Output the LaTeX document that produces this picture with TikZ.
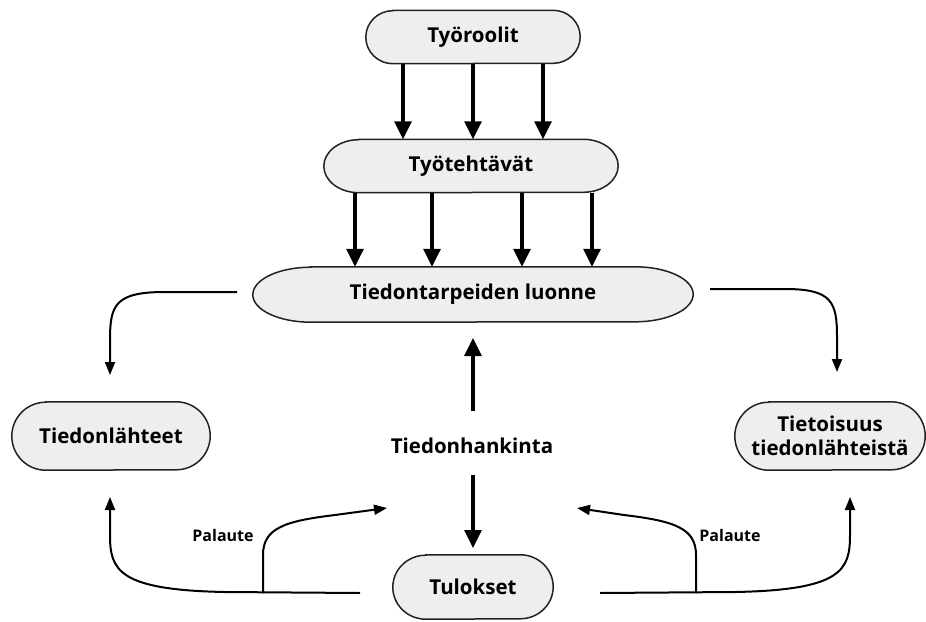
\documentclass[tikz,border=0pt]{standalone}
\usepackage{fontspec}
\setmainfont{Open Sans}
\usetikzlibrary{arrows.meta,backgrounds,calc}
\definecolor{boxgray}{HTML}{EEEEEE}
\definecolor{edge}{HTML}{222222}

% pill outline with elliptic ends: node name, x radius, y radius
\newcommand\pillshape[3]{%
  \draw[pill] ([xshift=#2]#1.north west) -- ([xshift=-#2]#1.north east)
    arc[start angle=90,end angle=-90,x radius=#2,y radius=#3]
    -- ([xshift=#2]#1.south west)
    arc[start angle=270,end angle=90,x radius=#2,y radius=#3] -- cycle;}

\begin{document}
\begin{tikzpicture}[x=1pt,y=-1pt,
  txt/.style={font=\fontsize{20.5}{24}\selectfont\bfseries, inner sep=0pt, align=center},
  box/.style={txt, minimum width=#1},
  note/.style={font=\fontsize{16}{19}\selectfont\bfseries, inner sep=0pt},
  pill/.style={draw=edge, line width=1.5pt, fill=boxgray},
  bigarrow/.style={line width=3.3pt, -{Triangle[length=18pt,width=17pt]}},
  thinarrow/.style={line width=2pt, -{Triangle[length=13pt,width=10pt]}}
]
\useasboundingbox (0,0) rectangle (926,621);

% boxes
\node[box=214, minimum height=53] (roles)   at (473,37)  {Työroolit};
\node[box=294, minimum height=53] (tasks)   at (471,166) {Työtehtävät};
\node[box=440, minimum height=55] (needs)   at (473,294.5) {Tiedontarpeiden luonne};
\node[box=198, minimum height=68] (sources) at (111,436) {Tiedonlähteet};
\node[box=190, minimum height=68] (aware)   at (830,436) {Tietoisuus\\tiedonlähteistä};
\node[box=160, minimum height=64] (results) at (473,587) {Tulokset};
\node[txt] (seeking) at (472,446) {Tiedonhankinta};
\node[note] (fbl) at (223,535) {Palaute};
\node[note] (fbr) at (730,535) {Palaute};

\begin{scope}[on background layer]
  \fill[white] (0,0) rectangle (926,621);
  \pillshape{roles}{27pt}{26.5pt}
  \pillshape{tasks}{35pt}{26.5pt}
  \pillshape{needs}{58pt}{27.5pt}
  \pillshape{sources}{34pt}{34pt}
  \pillshape{aware}{34pt}{34pt}
  \pillshape{results}{33pt}{32pt}
\end{scope}

% roles -> tasks
\foreach \dx in {-70,0,70} {
  \coordinate (s) at ([xshift=\dx pt]roles.south);
  \draw[bigarrow] (s) -- (s |- tasks.north);
}
% tasks -> needs
\foreach \dx in {-116,-39,51,121} {
  \coordinate (s) at ([xshift=\dx pt]tasks.south);
  \draw[bigarrow] (s) -- (s |- needs.north);
}

% information seeking in the middle
\coordinate (upA) at (473,411);
\coordinate (upB) at (473,338);
\coordinate (dnA) at (473,475);
\coordinate (dnB) at (473,548);
\draw[bigarrow] (upA) -- (upB);
\draw[bigarrow] (dnA) -- (dnB);

% needs -> sources / awareness
\coordinate (ltA) at (237,292);
\coordinate (ltB) at (110,375);
\coordinate (rtA) at (710,289);
\coordinate (rtB) at (837,372);
\draw[thinarrow] (ltA) -- (165,292) .. controls (115,292) and (110,305) .. (110,340) -- (ltB);
\draw[thinarrow] (rtA) -- (785,289) .. controls (832,289) and (837,302) .. (837,337) -- (rtB);

% results -> sources / awareness, with feedback branches
\coordinate (lbA) at (360,593);
\coordinate (lbB) at (110,497);
\coordinate (lbJ) at (263,593);
\coordinate (lbF) at (387,508);
\coordinate (rbA) at (600,593);
\coordinate (rbB) at (850,497);
\coordinate (rbJ) at (696,593);
\coordinate (rbF) at (577,508);
\draw[thinarrow] (lbA) -- (225,592) .. controls (118,590) and (110,570) .. (110,535) -- (lbB);
\draw[thinarrow] (lbJ) -- (263,555) .. controls (263,528) and (285,521) .. (335,515) -- (lbF);
\draw[thinarrow] (rbA) -- (735,592) .. controls (842,590) and (850,570) .. (850,535) -- (rbB);
\draw[thinarrow] (rbJ) -- (696,555) .. controls (696,528) and (674,521) .. (624,515) -- (rbF);
\end{tikzpicture}
\end{document}
